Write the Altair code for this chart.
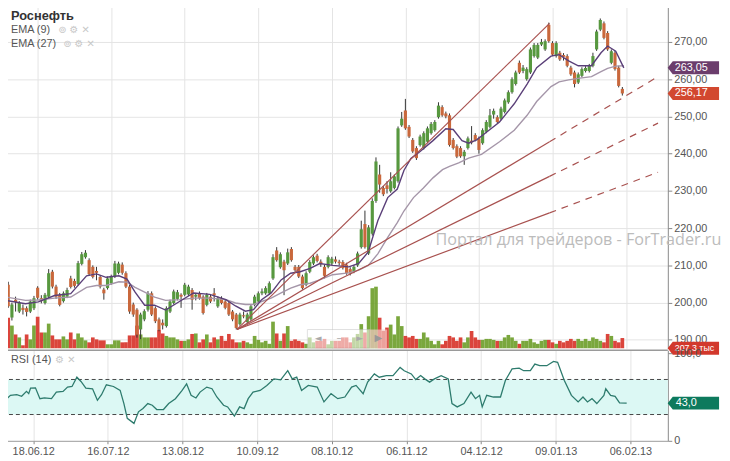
import altair as alt
import pandas as pd

# ---------------- data ----------------
opens = [
204.8,196.0,200.8,197.6,198.6,198.5,197.6,198.5,204.0,201.2,
199.9,201.6,208.3,204.3,202.1,200.4,201.6,206.5,205.8,205.0,
210.4,212.2,211.4,209.6,208.5,206.9,203.5,203.9,205.2,207.0,
208.0,210.2,207.9,204.3,199.5,198.1,192.8,195.5,198.1,202.5,
198.5,195.5,194.6,193.7,197.6,199.9,201.0,202.1,202.1,202.2,
203.4,201.6,202.5,201.6,199.4,201.6,202.5,199.0,201.2,200.3,
199.9,197.6,196.8,194.2,196.6,194.8,195.5,199.4,200.3,202.5,
202.5,202.5,206.5,214.0,209.5,211.0,210.5,214.4,209.6,209.6,
207.0,204.8,208.3,210.5,212.6,211.0,209.6,209.6,210.5,211.6,
211.0,210.9,210.2,209.0,208.3,210.0,214.9,221.1,213.2,218.5,
227.3,234.4,230.8,231.5,229.9,230.8,232.6,247.6,251.6,247.2,
243.7,241.5,242.3,241.5,243.2,245.5,246.3,249.8,252.5,250.8,
250.3,243.7,242.0,241.5,239.3,241.5,243.5,245.0,244.1,242.8,
245.9,247.2,250.5,249.8,249.4,251.2,253.8,256.5,258.7,264.4,
262.2,260.0,261.8,266.2,265.8,269.3,268.0,274.6,269.7,266.2,
267.1,266.5,266.2,263.1,261.8,259.1,260.9,262.2,262.2,263.6,
268.0,273.3,275.0,272.4,264.4,267.1,263.1,257.4]

closes = [
199.0,199.5,200.2,199.9,198.0,197.5,200.3,201.2,201.3,200.4,
202.1,207.9,204.3,201.6,199.4,202.5,203.4,204.2,204.5,210.6,
213.0,213.4,207.6,206.9,208.0,204.3,202.5,206.5,207.0,210.5,
210.5,208.0,204.3,197.6,196.8,191.4,196.8,197.7,202.5,196.8,
195.0,192.8,193.9,198.5,200.3,203.0,202.8,201.6,204.8,204.3,
200.8,202.1,201.2,197.2,202.1,200.3,202.0,201.2,199.9,198.6,
196.8,195.5,193.2,196.8,196.3,196.8,199.0,201.6,202.5,203.0,
203.9,205.2,212.2,211.4,213.0,208.7,213.5,211.4,208.7,207.0,
203.9,207.9,210.9,212.2,211.2,210.3,207.2,212.2,211.8,211.0,
210.6,209.3,207.9,207.8,209.6,213.2,219.7,214.9,220.2,227.3,
237.9,231.7,229.1,230.5,232.6,233.9,246.8,249.4,246.8,244.6,
240.6,238.8,244.6,245.5,246.8,248.0,248.5,252.9,250.3,250.0,
242.3,241.5,239.2,239.3,240.5,244.1,243.0,243.7,241.0,246.3,
248.5,250.3,251.5,248.5,252.1,254.3,256.5,260.0,261.8,261.8,
263.1,262.7,268.0,269.2,269.2,270.0,270.2,270.2,266.6,269.7,
265.3,266.0,263.6,261.3,258.7,261.3,262.7,263.0,263.6,266.2,
272.8,275.9,271.1,268.0,267.5,262.7,258.2,256.17]

highs = [
205.6,200.0,201.6,200.4,199.5,199.0,200.8,201.8,204.4,202.0,
202.6,209.0,208.8,204.8,202.6,203.0,204.0,207.2,206.4,211.2,
213.6,214.1,211.9,210.0,209.6,207.4,204.0,207.0,207.5,211.2,
211.0,210.8,208.4,204.8,200.0,198.5,197.3,198.2,203.1,203.0,
199.0,196.0,195.5,199.0,200.8,203.5,203.4,202.5,205.3,204.8,
203.9,202.6,203.0,202.0,202.6,202.1,203.9,201.7,201.7,200.8,
200.3,198.0,197.2,197.3,197.6,197.3,199.5,202.1,203.0,203.8,
204.4,205.7,213.0,214.9,213.5,211.5,214.5,214.9,210.1,210.1,
207.5,208.4,211.4,212.7,213.1,211.6,210.1,212.7,212.3,212.4,
211.5,211.4,210.7,209.5,210.1,213.7,222.0,224.7,220.8,228.0,
239.0,237.0,231.3,232.6,235.0,234.4,247.3,251.2,254.7,247.7,
244.2,242.0,245.1,246.0,247.3,248.5,249.0,253.8,253.0,251.3,
250.8,244.2,242.5,242.0,241.0,244.6,247.4,245.5,244.6,246.8,
249.0,252.0,252.1,250.3,252.6,254.8,257.0,260.5,262.3,265.0,
263.8,263.2,268.5,269.7,269.7,270.8,270.7,275.2,270.2,270.2,
267.6,267.0,266.7,263.6,262.3,261.8,263.2,263.5,264.1,267.1,
273.3,276.3,275.5,272.9,268.0,267.6,263.6,257.9]

lows = [
198.6,195.2,197.6,197.2,196.8,196.3,197.2,198.0,200.8,199.8,
199.5,201.2,203.8,201.0,199.0,200.0,201.2,203.8,204.0,204.6,
210.0,211.8,207.2,206.5,206.0,203.8,200.8,203.5,204.8,206.6,
207.6,207.5,203.9,197.0,196.2,190.6,190.2,195.0,197.6,196.4,
194.5,192.3,192.8,193.3,197.2,199.5,200.6,198.6,201.7,201.8,
198.1,200.6,200.8,196.8,199.0,199.9,200.3,198.6,199.5,198.2,
196.4,195.0,192.8,193.8,195.8,194.4,195.1,199.0,199.9,202.0,
202.1,202.1,206.1,211.0,209.1,202.0,210.1,211.0,208.3,206.6,
203.5,204.4,207.9,210.1,210.8,209.6,206.5,209.2,210.1,210.5,
210.0,208.9,207.5,207.3,207.9,209.6,214.5,214.5,212.8,218.0,
226.8,229.5,228.6,229.3,229.5,230.4,232.2,247.2,246.4,244.2,
240.2,238.3,241.9,241.1,242.8,245.1,245.9,249.4,249.9,249.5,
241.9,241.1,238.8,238.9,237.0,241.1,242.5,243.3,240.0,242.4,
245.5,246.8,249.4,248.1,249.0,250.8,253.4,256.1,258.3,261.4,
261.6,259.6,261.4,265.8,265.4,268.9,267.6,269.8,266.2,265.8,
264.9,265.0,263.2,260.9,257.8,258.7,260.5,261.8,261.8,263.2,
267.6,272.9,270.7,267.6,264.0,262.3,257.8,255.6]

volumes = [  # thousands
620,460,280,220,60,280,180,460,640,320,
320,500,260,180,180,240,180,320,180,300,
220,160,120,220,180,160,160,80,80,160,
160,120,120,260,260,460,280,220,220,220,
220,380,300,250,220,220,180,150,150,180,
290,300,120,180,280,120,220,180,250,150,
290,180,120,120,150,120,90,250,170,120,
150,90,540,300,150,300,450,150,180,150,
120,90,220,120,150,150,190,80,150,150,
150,220,220,120,220,290,490,320,650,1220,
1250,620,350,420,480,280,650,450,250,220,
250,190,190,320,220,150,80,150,80,150,
250,220,150,220,120,220,350,220,170,170,
190,190,170,150,150,220,270,220,150,90,
150,150,190,120,90,150,170,170,120,90,
150,120,150,190,150,190,150,190,150,220,
190,150,120,290,250,150,120,207.3]

ema9_idx = [-0.6,4.7,8.2,12.6,17,21.3,24,26.6,30.1,32.3,34.5,37.1,39.8,42.8,46.9,50.4,54.8,59.2,
            61.8,64.5,66.7,68.9,71.5,74.2,76.8,79.4,82.1,84.7,88.2,92.6,95.3,97.9,100.5,103.2,105.8,
            107.6,109.5,112,115.5,119,121,123.4,125.2,127.4,129.6,133.6,137.6,141.1,143.7,147.6,149.8,
            152.4,155,158.6,161.2,163,165.2,167.4]
ema9_val = [200.6,199.7,200.2,201.9,202.4,207.2,207.7,206.8,207.2,206.3,202.8,199.3,199.3,198.0,200.5,
            202.6,202.2,200.8,199.1,197.7,198.1,200.8,202.6,206.1,207.9,208.3,209.2,210.5,210.0,209.6,
            210.5,213.6,222.0,228.2,230.5,235.5,238.7,240.6,243.5,246.7,246.5,243.5,242.8,243.7,245.4,
            248.5,253.4,258.7,263.1,266.2,266.6,264.9,263.6,263.6,267.1,268.9,267.5,263.05]

ema27_idx = [-0.6,4.7,8.2,12.6,17,21.3,24,26.6,30.1,32.3,34.5,37.1,39.8,42.8,46.9,50.4,54.8,59.2,
             61.8,64.5,66.7,68.9,71.5,74.2,76.8,79.4,82.1,84.7,88.2,92.6,95.3,97.9,100.5,103.2,105.8,
             107.6,110.2,112.9,115.5,118.1,120,122.5,125.2,128.7,133.6,137.6,141.1,143.7,147.6,149.8,
             152.4,155,158.6,161.2,163,165.2,167.4]
ema27_val = [201.5,200.6,200.7,201.2,201.5,204.1,204.6,204.6,205.6,205.5,204.1,202.8,201.5,200.6,200.8,
             201.2,201.2,200.8,199.9,199.5,199.5,200.3,201.2,202.6,203.9,204.8,205.2,206.1,207.5,208.0,
             208.7,210.0,213.1,217.5,221.5,224.6,228.2,230.8,233.5,235.7,236.6,237.5,238.8,239.8,243.2,
             246.3,250.3,254.0,258.0,259.3,259.8,260.2,260.7,262.0,262.9,263.5,263.6]

rsi_idx = [0,1.9,3.6,4.9,6.2,6.8,7.3,8.6,9.8,11,12.9,14.2,16,17.2,18.4,19.7,20.8,22.1,23.9,25.2,
           26.3,27.6,29.5,31.3,32.3,33.2,35,36.2,37.4,38.7,39.9,41.1,42.9,44.3,46.1,47.9,49.1,50.3,
           51.6,52.7,54.5,55.9,57.2,59,60.1,61.9,63.3,64.5,65.6,66.9,68.8,70.6,72.5,74.3,76.2,77.4,
           78.6,79.9,81.7,84.1,85.9,87.8,89.6,91.5,93.3,94.5,96.4,97.6,99.4,100.7,102.6,104.4,106.3,
           107.4,109.3,110.5,111.8,112.9,114.2,115.5,117.3,119.2,120.2,121.6,123.4,125.3,126.5,127.6,
           128.3,129.5,131.3,133.2,134.5,136.3,138.2,139.4,141.2,142.4,143.7,145.6,147.4,148.5,150.3,
           152.2,154,155.3,156.5,157.7,159,160.9,161.4,162.7,163.9,165.1,167]
rsi_val = [44.4,51.9,52.6,50.8,56.4,53.8,60.2,60.5,48.1,48.9,48.1,55.6,56.4,61.3,62,72.6,67.7,60.2,
           59.4,46.2,52.6,63.9,62,57.5,42.5,25.6,19.9,33.1,36.8,42.5,40.6,35.7,35.7,42.5,48.1,57.5,
           65,51.9,48.9,55.6,61.3,59.4,50,40.6,38.7,28.2,38.7,36.8,48.1,55.6,57.5,63.2,70.7,69.5,80,
           70.7,72.6,57.5,63.2,61.3,44.4,53.8,48.1,50,61.3,63.2,53.8,67,76.3,72.6,74.4,74.4,83.8,80,
           76.3,69.9,74.4,70.7,67,70.7,74.4,70.7,42.5,38.7,42.5,55.6,48.1,51.9,38.7,51.9,50,50,68.8,
           82,83,80,80,87.6,85.7,85.7,90.6,89.5,68.8,51.9,44.4,50,44.4,48.1,42.5,51.9,59.4,51.9,50.8,
           43.2,43.0]
rsi_levels = [30, 70]

date_idx = [8, 28, 48, 68, 88, 108, 128, 148, 168]
date_labels = ["18.06.12", "16.07.12", "13.08.12", "10.09.12", "08.10.12",
               "06.11.12", "04.12.12", "09.01.13", "06.02.13"]
price_ticks = [190, 200, 210, 220, 230, 240, 250, 260, 270]

fan_origin_idx = 62.2
fan_origin_price = 192.8
fan_end_idx = 147.2
fan_end_price = [275.0, 243.2, 233.9, 224.1]
fan_ext_idx = 176.7
fan_ext_price = [260.7, 248.2, 235.0]   # dashed continuation of lines 2-4

last_ema = 263.05
last_close = 256.17
last_volume_label = "207,3 тыс"
last_rsi = 43.0

# ---------------- styling ----------------
W, HP, HR = 677, 350, 92
FONT = "Liberation Sans"
GRID = "#e4e4e4"
UP, DOWN = "#57983f", "#c9683c"
VUP, VDOWN = "#6f9f2c", "#d8352b"
FAN = "#a8514f"
BOX = "M-0.11,0L0,-0.14L1,-0.14L1,0.14L0,0.14Z"

xs = alt.Scale(domain=[-0.6, 178.03], nice=False, zero=False)
ps = alt.Scale(domain=[187.75, 280.31], nice=False, zero=False)
vs = alt.Scale(domain=[0, 7000], nice=False, zero=True)
rs = alt.Scale(domain=[0, 103.4], nice=False, zero=False)

x_axis_top = alt.Axis(values=date_idx, labels=False, ticks=False, domain=False,
                      grid=True, gridColor=GRID, title=None)
price_axis = alt.Axis(orient="right", values=price_ticks,
                      labelExpr="replace(format(datum.value, '.2f'), '.', ',')",
                      grid=True, gridColor=GRID, tickSize=4, tickColor="#888",
                      domainColor="#888", labelColor="#555", labelFontSize=11,
                      labelFont=FONT, labelPadding=2, title=None)
lab_js = "[" + ",".join("'%s'" % d for d in date_labels) + "]"
idx_js = "[" + ",".join(str(v) for v in date_idx) + "]"
x_axis_bot = alt.Axis(values=date_idx, labelExpr=lab_js + "[indexof(" + idx_js + ", datum.value)]",
                      grid=True, gridColor=GRID, tickSize=3, tickColor="#888",
                      domainColor="#999", labelColor="#555", labelFontSize=11,
                      labelFont=FONT, labelPadding=2, title=None, labelFlush=False,
                      labelOverlap=False)
rsi_axis = alt.Axis(orient="right", values=[0, 100],
                    labelExpr="datum.value == 0 ? '0' : replace(format(datum.value, '.1f'), '.', ',')",
                    grid=False, tickSize=4, tickColor="#888", domainColor="#888",
                    labelColor="#555", labelFontSize=11, labelFont=FONT, labelPadding=2, title=None)

n = len(closes)
df = pd.DataFrame({"i": list(range(n)), "open": opens[:n], "close": closes,
                   "high": highs[:n], "low": lows[:n], "vol": volumes[:n]})
up_test = "datum.close >= datum.open"

one = pd.DataFrame({"a": [0]})


def txt(s, x, y, size=11, color="#555", weight="normal", font=FONT, align="left"):
    return alt.Chart(pd.DataFrame({"t": [s]})).mark_text(
        align=align, baseline="middle", fontSize=size, color=color,
        fontWeight=weight, font=font).encode(x=alt.value(x), y=alt.value(y), text="t:N")


xi = alt.X("i:Q", scale=xs, axis=x_axis_top)

# volume (own scale)
vol = alt.Chart(df).transform_calculate(xa="datum.i - 0.5", xb="datum.i + 0.5").mark_rect(
    opacity=0.92).encode(
    x=alt.X("xa:Q", scale=xs, axis=x_axis_top), x2="xb:Q",
    y=alt.Y("vol:Q", scale=vs, axis=None), y2=alt.datum(0),
    color=alt.condition(up_test, alt.value(VUP), alt.value(VDOWN)))

wick = alt.Chart(df).mark_rule(color="#333", strokeWidth=1).encode(
    x=xi, y=alt.Y("low:Q", scale=ps, axis=price_axis), y2="high:Q")
body = alt.Chart(df).mark_bar(size=3.2).encode(
    x=xi, y=alt.Y("open:Q", scale=ps, axis=price_axis), y2="close:Q",
    color=alt.condition(up_test, alt.value(UP), alt.value(DOWN)))

ema27 = alt.Chart(pd.DataFrame({"i": ema27_idx, "v": ema27_val})).mark_line(
    color="#a596a9", strokeWidth=1.4).encode(x=xi, y=alt.Y("v:Q", scale=ps, axis=price_axis))
ema9 = alt.Chart(pd.DataFrame({"i": ema9_idx, "v": ema9_val})).mark_line(
    color="#5a3f78", strokeWidth=1.4).encode(x=xi, y=alt.Y("v:Q", scale=ps, axis=price_axis))

fan_solid_df = pd.DataFrame({"i0": [fan_origin_idx] * 4, "p0": [fan_origin_price] * 4,
                             "i1": [fan_end_idx] * 4, "p1": fan_end_price})
fan_dash_df = pd.DataFrame({"i0": [fan_end_idx] * 3, "p0": fan_end_price[1:],
                            "i1": [fan_ext_idx] * 3, "p1": fan_ext_price})
fan_solid = alt.Chart(fan_solid_df).mark_rule(color=FAN, strokeWidth=1.2).encode(
    x=alt.X("i0:Q", scale=xs, axis=x_axis_top), x2="i1:Q",
    y=alt.Y("p0:Q", scale=ps, axis=price_axis), y2="p1:Q")
fan_dash = alt.Chart(fan_dash_df).mark_rule(color=FAN, strokeWidth=1.2, strokeDash=[7, 6]).encode(
    x=alt.X("i0:Q", scale=xs, axis=x_axis_top), x2="i1:Q",
    y=alt.Y("p0:Q", scale=ps, axis=price_axis), y2="p1:Q")

box_df = pd.DataFrame({"v": [last_ema, last_close],
                       "t": [f"{last_ema:.2f}".replace(".", ","), f"{last_close:.2f}".replace(".", ",")],
                       "c": ["#6b3d6c", "#d2482f"]})
price_box = alt.Chart(box_df).mark_point(shape=BOX, filled=True, size=8836, opacity=1).encode(
    x=alt.value(682), y=alt.Y("v:Q", scale=ps, axis=price_axis),
    color=alt.Color("c:N", scale=None), strokeWidth=alt.value(0))
price_box_t = alt.Chart(box_df).mark_text(align="left", baseline="middle", fontSize=11,
                                          color="white", font=FONT).encode(
    x=alt.value(684), y=alt.Y("v:Q", scale=ps, axis=price_axis), text="t:N")

vol_box = alt.Chart(one).mark_point(shape=BOX, filled=True, size=8836, opacity=1,
                                    color="#d2382c", strokeWidth=0).encode(
    x=alt.value(682), y=alt.value(350))

watermark = txt("Портал для трейдеров - ForTrader.ru", 441, 240, 16.4, "#bcbcbc", font="Open Sans")

nav_bg = alt.Chart(one).mark_rect(color="white", opacity=0.55, stroke="#c8c8c8").encode(
    x=alt.value(311), x2=alt.value(374), y=alt.value(331), y2=alt.value(350))
nav_pink = alt.Chart(one).mark_rect(color="#f4c9c4", opacity=0.7).encode(
    x=alt.value(374), x2=alt.value(392), y=alt.value(331), y2=alt.value(350))

price_layers = alt.layer(
    wick, body, ema27, ema9, fan_solid, fan_dash,
    nav_bg, nav_pink,
    txt("◄", 322, 340, 9, "#aaa", font="DejaVu Sans", align="center"),
    txt("–", 343, 340, 10, "#aaa", font="DejaVu Sans", align="center"),
    txt("►", 364, 340, 9, "#aaa", font="DejaVu Sans", align="center"),
    txt("▶", 383, 340, 10, "#999", font="DejaVu Sans", align="center"),
    watermark,
    txt("Роснефть", 10, 13, 13, "#333", "bold"),
    txt("EMA (9)", 10, 27, 11, "#555"),
    txt("⊚ ⚙ ✕", 58, 27, 10, "#c8c8c8", font="DejaVu Sans"),
    txt("EMA (27)", 10, 41, 11, "#555"),
    txt("⊚ ⚙ ✕", 63, 41, 10, "#c8c8c8", font="DejaVu Sans"),
    price_box, price_box_t,
    vol_box,
    txt(last_volume_label, 684, 350, 9, "white"),
)

price = alt.layer(vol, price_layers).resolve_scale(y="independent").properties(width=W, height=HP)

# ---------------- RSI panel ----------------
band = alt.Chart(pd.DataFrame({"lo": [rsi_levels[0]], "hi": [rsi_levels[1]]})).mark_rect(
    color="#dcf8f4").encode(x=alt.value(0), x2=alt.value(W),
                            y=alt.Y("lo:Q", scale=rs, axis=rsi_axis), y2="hi:Q")
levels = alt.Chart(pd.DataFrame({"l": rsi_levels})).mark_rule(
    color="#444", strokeDash=[4, 3], strokeWidth=1).encode(
    y=alt.Y("l:Q", scale=rs, axis=rsi_axis))
rsi_line = alt.Chart(pd.DataFrame({"i": rsi_idx, "v": rsi_val})).mark_line(
    color="#2d7b6d", strokeWidth=1.3).encode(
    x=alt.X("i:Q", scale=xs, axis=x_axis_bot), y=alt.Y("v:Q", scale=rs, axis=rsi_axis))
sep = alt.Chart(one).mark_rule(color="#9a9a9a", strokeWidth=1.5).encode(
    x=alt.value(0), x2=alt.value(W), y=alt.value(0))
rsi_box_df = pd.DataFrame({"v": [last_rsi], "t": [f"{last_rsi:.1f}".replace(".", ",")]})
rsi_box = alt.Chart(rsi_box_df).mark_point(shape=BOX, filled=True, size=8836, opacity=1,
                                           color="#0d7a5d", strokeWidth=0).encode(
    x=alt.value(682), y=alt.Y("v:Q", scale=rs, axis=rsi_axis))
rsi_box_t = alt.Chart(rsi_box_df).mark_text(align="left", baseline="middle", fontSize=11,
                                            color="white", font=FONT).encode(
    x=alt.value(685), y=alt.Y("v:Q", scale=rs, axis=rsi_axis), text="t:N")

rsi = alt.layer(
    band, levels, rsi_line, sep,
    txt("RSI (14)", 10, 10, 11, "#555"),
    txt("⚙ ✕", 55, 10, 10, "#c8c8c8", font="DejaVu Sans"),
    rsi_box, rsi_box_t,
).properties(width=W, height=HR)

chart = alt.vconcat(price, rsi, spacing=2, bounds="flush").resolve_scale(
    y="independent").properties(
    padding={"left": -8, "top": -8, "right": 0, "bottom": 0},
    background="white",
).configure_view(stroke=None)

chart.save("out.html", embed_options={"renderer": "svg", "actions": False})
